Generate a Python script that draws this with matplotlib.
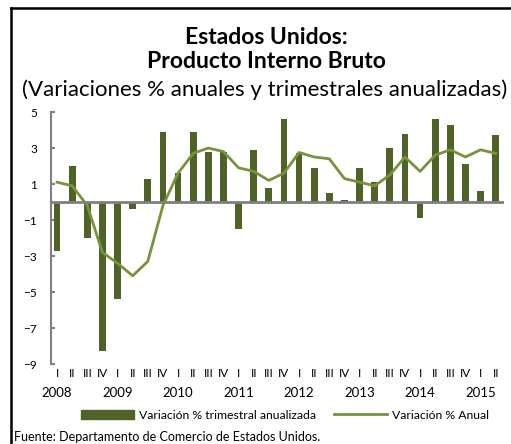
import matplotlib
matplotlib.use("Agg")
import matplotlib.pyplot as plt
from matplotlib.lines import Line2D
from matplotlib.patches import Patch
import numpy as np

plt.rcParams['font.family'] = ['Lato', 'DejaVu Sans']

# datos trimestrales 2008 I - 2015 II
trimestres = ['I', 'II', 'III', 'IV'] * 7 + ['I', 'II']
anios = ['2008', '2009', '2010', '2011', '2012', '2013', '2014', '2015']
var_trimestral = [-2.7, 2.0, -2.0, -8.3, -5.4, -0.4, 1.3, 3.9,
                  1.6, 3.9, 2.8, 2.8, -1.5, 2.9, 0.8, 4.6,
                  2.7, 1.9, 0.5, 0.1, 1.9, 1.1, 3.0, 3.8,
                  -0.9, 4.6, 4.3, 2.1, 0.6, 3.7]
var_anual = [1.1, 0.9, -0.2, -2.8, -3.4, -4.1, -3.3, -0.2,
             1.6, 2.7, 3.0, 2.8, 1.9, 1.7, 1.2, 1.6,
             2.75, 2.5, 2.4, 1.3, 1.1, 0.9, 1.5, 2.5,
             1.7, 2.6, 2.9, 2.5, 2.9, 2.7]

verde_osc = '#4f6228'
verde_cla = '#77933c'
gris = '#808080'

W, H = 511, 444
fig = plt.figure(figsize=(W / 100, H / 100), dpi=100)
ax = fig.add_axes([51 / W, (H - 364) / H, (504 - 51) / W, (364 - 112) / H])

x = np.arange(len(var_trimestral))
ax.bar(x, var_trimestral, width=0.45, color=verde_osc, zorder=2)
ax.plot(x, var_anual, color=verde_cla, lw=2.0, zorder=3)
ax.axhline(0, color=gris, lw=2, zorder=4)

ax.set_xlim(-0.4, 29.55)
ax.set_ylim(-9, 5)
ax.set_yticks(np.arange(-9, 6, 2))
ax.tick_params(axis='y', direction='in', length=3, color=gris, width=1.5,
               labelsize=8.5, pad=10)
ax.set_xticks(x)
ax.set_xticklabels(trimestres, fontsize=8.5)
ax.tick_params(axis='x', length=0, pad=3)
for s in ['top', 'right', 'bottom']:
    ax.spines[s].set_visible(False)
ax.spines['left'].set_color(gris)
ax.spines['left'].set_linewidth(1.5)

for i, a in enumerate(anios):
    ax.text(i * 4, -0.092, a, transform=ax.get_xaxis_transform(),
            ha='center', va='top', fontsize=9.5)

# titulos
fig.text(266 / W, 1 - 37 / H, 'Estados Unidos:', ha='center', va='center',
         fontsize=16.5, fontweight='bold')
fig.text(266 / W, 1 - 62 / H, 'Producto Interno Bruto', ha='center', va='center',
         fontsize=16.5, fontweight='bold')
fig.text(265 / W, 1 - 90 / H, '(Variaciones % anuales y trimestrales anualizadas)',
         ha='center', va='center', fontsize=16)

# leyenda
handles = [Patch(color=verde_osc), Line2D([], [], color=verde_cla, lw=2)]
fig.legend(handles, ['Variación % trimestral anualizada', 'Variación % Anual'],
           loc='center', bbox_to_anchor=(285 / W, 1 - 415 / H), ncol=2,
           frameon=False, fontsize=8.8, handlelength=4.3, handletextpad=0.4,
           columnspacing=1.5)

fig.text(14 / W, 1 - 437 / H, 'Fuente: Departamento de Comercio de Estados Unidos.',
         ha='left', va='center', fontsize=9)

# marco
fig.add_artist(Line2D([11 / W, 11 / W], [0, 1 - 8 / H], color='black', lw=1.8))
fig.add_artist(Line2D([11 / W, 1], [1 - 8 / H, 1 - 8 / H], color='black', lw=1.8))

fig.savefig('out.png', dpi=100)
